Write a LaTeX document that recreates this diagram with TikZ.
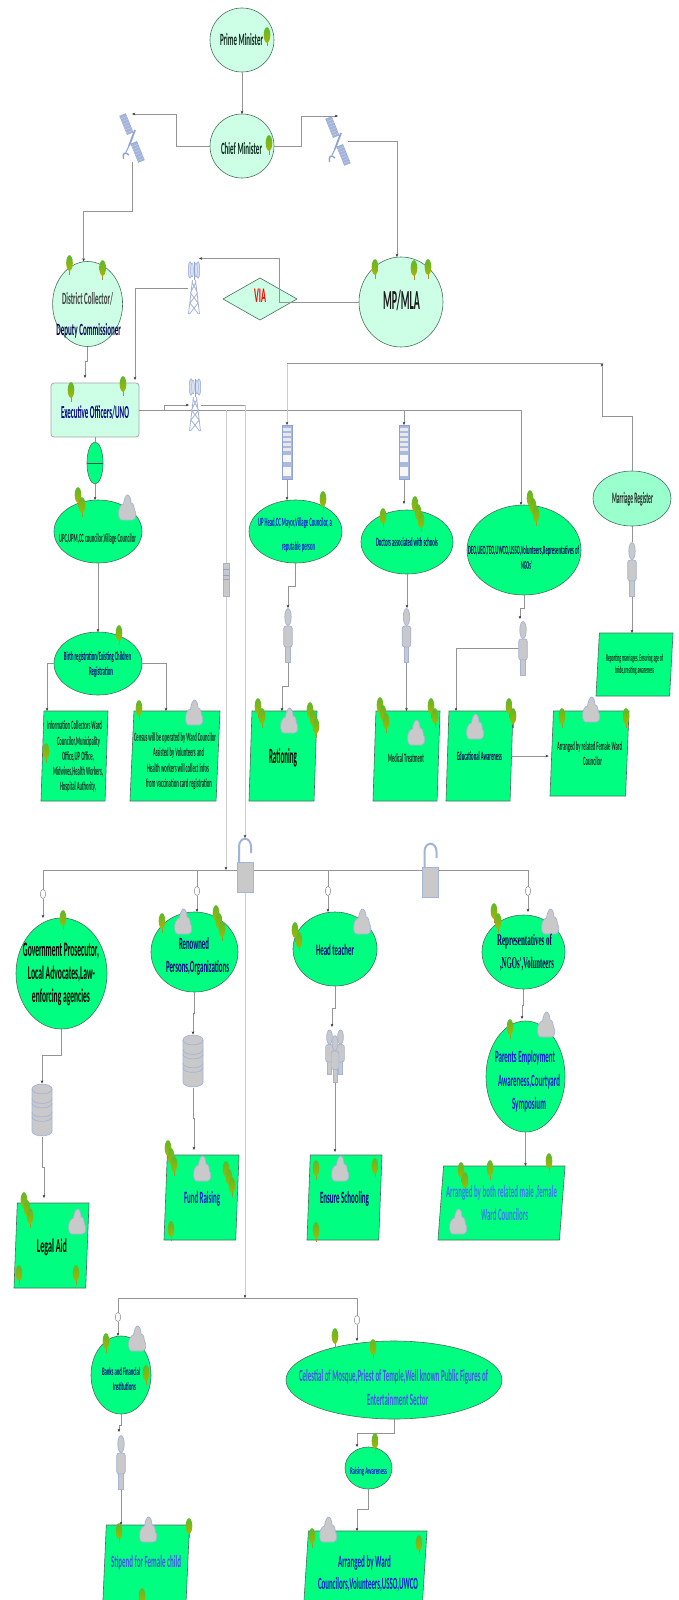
\documentclass[tikz,border=0pt]{standalone}
\usepackage{fontspec}
\usepackage{graphicx}
\setmainfont{Carlito}
\newfontfamily\serf{Liberation Serif}
\usetikzlibrary{shapes.geometric,arrows.meta}
\definecolor{gre}{HTML}{00FF80}
\definecolor{pale}{HTML}{CCFFE6}
\definecolor{mid}{HTML}{99FFCC}
\definecolor{bord}{HTML}{4A6E5C}
\definecolor{icoF}{HTML}{C9C9C9}
\definecolor{icoD}{HTML}{A3B3DA}
\definecolor{icoB}{HTML}{8EA3D3}
\definecolor{nav}{HTML}{000080}
\definecolor{blu}{HTML}{1414D8}
\definecolor{lbl}{HTML}{4A50F0}
\definecolor{lbm}{HTML}{3A78F0}
\definecolor{drk}{HTML}{0C2A1C}
\definecolor{crownT}{HTML}{5CB82C}
\definecolor{crownB}{HTML}{A8B400}
\definecolor{trunk}{HTML}{C08A20}
\newcommand\tx[7]{\node[lab,text=#6] (#1) at (#2,#3) {\resizebox*{#4pt}{#5pt}{\bfseries #7\vphantom{Ag}}};}
\newcommand\hole[5]{\node[holebox,minimum width=#4pt,minimum height=#5pt] (#1) at (#2,#3) {};}
\newcommand\Ta[2]{\pic at (#1,#2) {treeic};}
\newcommand\Tb[2]{\pic at (#1-2,#2-5) {treeic};\pic at (#1+2,#2+5) {treeic};}
\newcommand\Tc[2]{\pic at (#1-3,#2-8) {treeic};\pic at (#1,#2) {treeic};\pic at (#1+3,#2+8) {treeic};}
\newcommand\Cl[2]{\pic at (#1,#2) {cloudic};}
\newcommand\onePerson{\draw[iconf] (-2.2,11) rectangle (2.2,27);\draw[iconf,rounded corners=2.5pt] (-4.3,-9) rectangle (4.3,12);\draw[iconf] (0,-18) ellipse [x radius=3.2,y radius=8.5];}
\newcommand\dbBand[1]{\draw[icoD,line width=0.7pt] (-10,#1) .. controls (-10,#1+6.5) and (10,#1+6.5) .. (10,#1);}
\tikzset{
 lab/.style={inner sep=0pt,outer sep=0pt,draw=none,fill=none},
 holebox/.style={inner sep=0pt,outer sep=0pt,draw=none,fill=none},
 ell/.style={ellipse,draw=bord,line width=0.6pt,fill=gre,inner sep=0pt,outer sep=0pt},
 ellp/.style={ell,fill=pale},
 para/.style={trapezium,trapezium left angle=87.5,trapezium right angle=92.5,trapezium stretches=true,
   draw=bord,line width=0.6pt,fill=gre,inner sep=0pt,outer sep=0pt},
 ring/.style={ellipse,draw=black!45,line width=0.5pt,fill=white,minimum width=5.5pt,minimum height=9pt,inner sep=0pt,outer sep=0pt},
 lin/.style={draw=black!42,line width=0.7pt},
 con/.style={lin,-{Stealth[length=3.2pt,width=2.6pt,color=black!80]}},
 llin/.style={draw=black!20,line width=0.8pt},
 lcon/.style={llin,-{Stealth[length=3.2pt,width=2.6pt,color=black!80]}},
 iconf/.style={fill=icoF,draw=icoD,line width=0.7pt},
 treeic/.pic={
   \fill[trunk] (-0.5,4) rectangle (0.5,9.5);
   \shade[top color=crownT,bottom color=crownB,shading angle=0] (0,-2) ellipse [x radius=3.3,y radius=7.8];
 },
 cloudic/.pic={
   \draw[iconf] (-5.5,12) .. controls (-9,12) and (-9,3) .. (-7.5,0) .. controls (-6.5,-3) and (-4.5,-4) .. (-3.5,-4) .. controls (-3,-9) and (-1,-13) .. (0.5,-13) .. controls (2.5,-13) and (4,-9) .. (4,-5) .. controls (6.5,-5) and (7.5,-1) .. (7.5,2) .. controls (9.5,4) and (9.5,12) .. (5.5,12) -- cycle;
 },
 personic/.pic={\onePerson},
 peopleic/.pic={
   \begin{scope}[shift={(-5.5,-4)},yscale=.83,xscale=.9]\onePerson\end{scope}
   \begin{scope}[shift={(5.5,-4)},yscale=.83,xscale=.9]\onePerson\end{scope}
   \begin{scope}[shift={(0,3)},yscale=.88,xscale=.9]\onePerson\end{scope}
 },
 dbic/.pic={
   \draw[iconf] (-10,-21) -- (-10,21) .. controls (-10,27.5) and (10,27.5) .. (10,21) -- (10,-21) .. controls (10,-27.5) and (-10,-27.5) .. (-10,-21) -- cycle;
   \dbBand{-21}\dbBand{-11.5}\dbBand{-7}\dbBand{2}\dbBand{6.5}
 },
 srvic/.pic={
   \draw[fill=icoB!75,draw=icoB,line width=0.8pt] (-5,-27) rectangle (5,27);
   \foreach \yy in {-24,-19,-14,-9,-4}{\fill[icoF!40] (-3.7,\yy) rectangle (3.7,\yy+2.8);}
   \fill[white!85!icoF] (-3.7,3) rectangle (3.7,10);
   \fill[white!85!icoF] (-3.7,15) rectangle (3.7,24);
 },
 devic/.pic={
   \draw[iconf] (-3,-16.5) rectangle (3,16.5);
   \draw[icoB,line width=0.7pt] (-3,-10.5) -- (3,-10.5) (-3,-5) -- (3,-5) (-3,-0.5) -- (3,-0.5);
 },
 lockic/.pic={
   \draw[icoD,line width=2pt] (-6,-3) -- (-6,-18) .. controls (-6,-29) and (6,-29) .. (6,-18) -- (6,-12);
   \draw[iconf] (-8,-3) rectangle (8,27);
 },
 satic/.pic={
   \begin{scope}[rotate=22]
     \draw[fill=icoD,draw=icoB,line width=0.4pt] (-3.2,-25) rectangle (3.2,-5);
     \draw[fill=icoD,draw=icoB,line width=0.4pt] (-3.2,5) rectangle (3.2,25);
     \foreach \yy in {-22,-19,-16,-13,-10,-7,8,11,14,17,20,23}{\draw[white!55!icoB,line width=0.35pt] (-3.2,\yy) -- (3.2,\yy);}
   \end{scope}
   \draw[icoB,line width=1.8pt] (3,-8) -- (-3,8);
   \draw[icoB,line width=1pt] (-3,8) -- (-6,14);
   \draw[icoB,line width=1.4pt] (-8.5,21) .. controls (-9.5,15) and (-7,13) .. (-3,17);
 },
 towic/.pic={
   \foreach \ang in {-14,0,14}{\draw[icoD,line width=0.5pt,fill=icoD!40] (-4,-18) ellipse [x radius=1.6,y radius=8];
     \draw[icoD,line width=0.5pt,fill=icoD!40] (4,-18) ellipse [x radius=1.6,y radius=8];}
   \draw[icoD,line width=0.5pt,fill=icoD!40] (-2,-18) ellipse [x radius=1.4,y radius=7];
   \draw[icoD,line width=0.5pt,fill=icoD!40] (2,-18) ellipse [x radius=1.4,y radius=7];
   \draw[icoB,line width=0.7pt] (0,-26) -- (0,-8);
   \draw[icoD,line width=0.8pt] (-1.5,-8) -- (-5.5,26) (1.5,-8) -- (5.5,26) (-2,-6) -- (3.5,5) -- (-4,15) -- (4.5,26) (2,-6) -- (-3.5,5) -- (4,15) -- (-4.5,26);
 }
}
\begin{document}
\begin{tikzpicture}[x=1pt,y=-1pt]
\useasboundingbox (0,0) rectangle (678,1600);
\fill[white] (0,0) rectangle (678,1600);

% main shapes
\node[ellp,minimum width=64pt,minimum height=64pt] (pm) at (242,40) {};
\node[ellp,minimum width=64pt,minimum height=64pt] (cm) at (242,146) {};
\node[ellp,minimum width=70pt,minimum height=85pt] (dc) at (87.6,304) {};
\node[ellp,minimum width=84pt,minimum height=90pt] (mp) at (401,302) {};
\node[diamond,draw=bord,line width=0.6pt,fill=pale,inner sep=0pt,outer sep=0pt,minimum width=74pt,minimum height=42pt] (via) at (260,299) {};
\node[rectangle,rounded corners=3pt,draw=black!35,line width=0.8pt,fill=pale,inner sep=0pt,outer sep=0pt,minimum width=88pt,minimum height=54pt] (exec) at (95,410) {};
\node[ell,minimum width=16pt,minimum height=42pt] (osc) at (95,463) {};
\node[ell,minimum width=88pt,minimum height=63pt] (upc) at (98,531.5) {};
\node[ell,minimum width=88pt,minimum height=63pt] (birth) at (98,663.5) {};
\node[ell,minimum width=93pt,minimum height=63pt] (up) at (295.5,531.5) {};
\node[ell,minimum width=92pt,minimum height=64pt] (doc) at (407,542) {};
\node[ell,minimum width=114pt,minimum height=90pt] (ngo) at (524,550) {};
\node[ell,fill=mid,minimum width=78pt,minimum height=55pt] (mr) at (632,498.5) {};
\node[para,minimum width=67pt,minimum height=90pt] (info) at (74.5,756) {\phantom{x}};
\node[para,minimum width=90pt,minimum height=90pt] (census) at (175,756) {\phantom{x}};
\node[para,minimum width=68pt,minimum height=90pt] (rat) at (283,756) {\phantom{x}};
\node[para,minimum width=67pt,minimum height=90pt] (med) at (406.5,756) {\phantom{x}};
\node[para,minimum width=67pt,minimum height=90pt] (edu) at (479.5,756) {\phantom{x}};
\node[para,minimum width=79pt,minimum height=85pt] (arr) at (589.5,753.5) {\phantom{x}};
\node[para,minimum width=77pt,minimum height=63pt] (mrb) at (634.5,664.5) {\phantom{x}};
\node[ell,minimum width=91pt,minimum height=111pt] (gov) at (61.5,973.5) {};
\node[ell,minimum width=87pt,minimum height=80pt] (ren) at (194.5,952) {};
\node[ell,minimum width=84pt,minimum height=74pt] (head) at (335,949) {};
\node[ell,minimum width=83pt,minimum height=74pt] (rep) at (523.5,952) {};
\node[ell,minimum width=79pt,minimum height=111pt] (par) at (525.5,1076.5) {};
\node[para,minimum width=75pt,minimum height=85pt] (legal) at (51.5,1245.5) {\phantom{x}};
\node[para,minimum width=75pt,minimum height=85pt] (fund) at (201.5,1197.5) {\phantom{x}};
\node[para,minimum width=75pt,minimum height=85pt] (ens) at (344.5,1197.5) {\phantom{x}};
\node[para,minimum width=127pt,minimum height=74pt] (both) at (501.5,1203) {\phantom{x}};
\node[ell,minimum width=60pt,minimum height=78pt] (ban) at (121,1375) {};
\node[ell,minimum width=216pt,minimum height=78pt] (cel) at (394,1380) {};
\node[ell,minimum width=47pt,minimum height=42pt] (rai) at (368.5,1468) {};
\node[para,minimum width=87pt,minimum height=85pt] (sti) at (146,1567.5) {\phantom{x}};
\node[para,minimum width=124pt,minimum height=85pt] (arb) at (365,1573.5) {\phantom{x}};

% icon places
\hole{sat1}{132}{138}{19}{48}
\hole{sat2}{338}{141}{20}{50}
\hole{tw1}{194}{288}{12}{53}
\hole{tw2}{195}{405}{12}{53}
\hole{srv1}{287}{452}{10}{54}
\hole{srv2}{404}{452}{10}{54}
\hole{dev}{226}{580}{6}{33}
\hole{pup}{288}{635}{9}{54}
\hole{pdoc}{406.5}{635}{9}{54}
\hole{png}{523}{648}{9}{54}
\hole{pmr}{632}{569}{9}{54}
\hole{lock1}{245}{865}{16}{54}
\hole{lock2}{430.5}{870}{16}{54}
\hole{db1}{42}{1110}{20}{53}
\hole{db2}{193}{1061}{20}{53}
\hole{ppl}{335}{1056}{18}{54}
\hole{pb}{121}{1462}{9}{54}

\node[ring] (r1) at (43,894) {};
\node[ring] (r2) at (197,891) {};
\node[ring] (r3) at (328,891) {};
\node[ring] (r4) at (528,891) {};
\node[ring] (r5) at (118,1317) {};
\node[ring] (r6) at (357,1320) {};

% junction coordinates
\coordinate (t2a) at (164,410);
\coordinate (k1) at (245,405);
\coordinate (k2) at (226,410);
\coordinate (k3) at (226,870);
\coordinate (k4) at (245,1298);
\coordinate (k5) at (287,363);
\coordinate (k6) at (602,416);
\coordinate (k7) at (602,367);
\coordinate (k8) at (404,410);
\coordinate (busL) at (43,870);
\coordinate (busR) at (528,870);
\coordinate (bus2L) at (118,1298);
\coordinate (bus2R) at (357,1298);

% connectors
\draw[con] (pm.south) -- (cm.north);
\draw[con] (cm.west) -- ++(-34,0) |- (sat1.north);
\draw[con] (cm.east) -- ++(27,0) |- (sat2.north);
\draw[con] (sat2.east) -| ([xshift=-4pt]mp.north);
\draw[con] (sat1.south) -- ++(0,49) -| ([xshift=-4pt]dc.north);
\draw[con] (dc.south) -- ++(0,15) -| ([xshift=-10pt,yshift=5pt]exec.north);
\draw[con] (mp.west) -- ++(-80,0) |- ([xshift=5pt,yshift=3pt]tw1.north);
\draw[con] (tw1.west) -| ([xshift=40pt,yshift=3pt]exec.north);
\draw[con] (exec.east) -| ([xshift=-3pt]ngo.north);
\draw[con] (t2a) |- (tw2.west);
\draw[lin] (tw2.east) -- (k1);
\draw[lcon] (k1) -- (lock1.north);
\draw[lcon] (k2) -- (k3);
\draw[lcon] (lock1.south) -- (k4);
\draw[lcon] (k5) -- (srv1.north);
\draw[con] (k5) -| (k7);
\draw[lin] (k7) -- (k6);
\draw[lin] (k6) -| (mr.north);
\draw[con] (k8) -- (srv2.north);
\draw[con] (srv1.south) -- (srv1.south |- up.north);
\draw[con] (srv2.south) -- ([yshift=6pt]srv2.south |- doc.north);
\draw[con] (up.south) -- ++(0,23) -| (pup.north);
\draw[con] (pup.south) -- ++(0,24) -| ([xshift=-1pt]rat.north);
\draw[con] (doc.south) -- (doc.south |- pdoc.north);
\draw[con] (pdoc.south) -- (pdoc.south |- med.north);
\draw[con] (ngo.south) -- ++(0,13) -| ([xshift=-3pt,yshift=2pt]png.north);
\draw[con] (png.west) -| ([xshift=-23.5pt]edu.north);
\draw[con] ([xshift=-1pt]edu.east) -- ([xshift=-3pt]edu.east -| arr.west);
\draw[lin] (exec.south) -- (osc.north);
\draw[con] (osc.south) -- (osc.south |- upc.north);
\draw[con] (upc.south) -- (birth.north);
\draw[con] (birth.west) -| ([xshift=-27.5pt]info.north);
\draw[con] (birth.east) -| ([xshift=-9pt]census.north);
\draw[lin] (mr.south) -- (pmr.north);
\draw[con] (pmr.south) -- (pmr.south |- mrb.north);
\draw[lin] (busL) -- (busR);
\draw[lin] (busL) -- (r1.north);
\draw[lin] (r2.north |- busL) -- (r2.north);
\draw[lin] (r3.north |- busL) -- (r3.north);
\draw[lin] (busR) -- (r4.north);
\draw[con] (r1.south) -- (r1.south |- gov.north);
\draw[con] (r2.south) -- (r2.south |- ren.north);
\draw[con] (r3.south) -- (r3.south |- head.north);
\draw[con] (r4.south) -- ([yshift=3pt]r4.south |- rep.north);
\draw[con] (gov.south) -- ++(0,26) -| (db1.north);
\draw[con] (db1.south) -- ++(0,31) -| ([xshift=-7.5pt,yshift=5pt]legal.north);
\draw[con] (ren.south) -- ++(0,21) -| (db2.north);
\draw[con] (db2.south) -- ++(0,31) -| ([xshift=-7.5pt,yshift=5pt]fund.north);
\draw[con] (head.south) -- ++(0,22) -| ([xshift=-3pt,yshift=2pt]ppl.north);
\draw[con] (ppl.south) -- ([yshift=3pt]ppl.south |- ens.north);
\draw[con] (rep.south) -- ++(0,16) -| ([xshift=-3.5pt,yshift=2pt]par.north);
\draw[con] (par.south) -- (par.south |- both.north);
\draw[lin] (bus2L) -- (bus2R);
\draw[lin] (bus2L) -- (r5.north);
\draw[lin] (bus2R) -- (r6.north);
\draw[con] (r5.south) -- (r5.south |- ban.north);
\draw[con] (r6.south) -- (r6.south |- cel.north);
\draw[con] (ban.south) -- ++(0,11) -| ([xshift=-2pt,yshift=3pt]pb.north);
\draw[con] (pb.south) -- (pb.south |- sti.north);
\draw[con] (cel.south) -- ++(0,14) -| ([xshift=-11.5pt]rai.north);
\draw[con] (rai.south) -- ++(0,20) -| ([xshift=-8pt]arb.north);
\draw[draw=black!70,line width=0.6pt] (osc.west) -- (osc.east);

% icons
\pic at (sat1) {satic};
\pic at (sat2) {satic};
\pic at (tw1) {towic};
\pic at (tw2) {towic};
\pic at (srv1) {srvic};
\pic at (srv2) {srvic};
\pic at (dev) {devic};
\pic at (pup) {personic};
\pic at (pdoc) {personic};
\pic at (png) {personic};
\pic at (pmr) {personic};
\pic at (lock1) {lockic};
\pic at (lock2) {lockic};
\pic at (db1) {dbic};
\pic at (db2) {dbic};
\pic at (ppl) {peopleic};
\pic at (pb) {personic};

% trees and clouds
\Ta{267}{37} \Ta{269}{145}
\Ta{69.5}{265} \Ta{102.6}{270}
\Ta{375}{269} \Ta{414}{270} \Ta{428}{269}
\Ta{71}{392} \Ta{123}{386}
\Tb{80}{502} \Cl{127}{508}
\Ta{323}{501}
\Ta{383}{518} \Tc{418}{514}
\Tc{533}{508}
\Ta{119}{635}
\Ta{46}{753}
\Ta{139}{710} \Cl{194}{713}
\Tb{260}{713} \Tc{313}{720} \Cl{289}{721}
\Tc{383}{715} \Tb{433}{713} \Cl{416}{733}
\Cl{475}{727} \Tb{511}{713}
\Ta{562}{718} \Ta{626}{718} \Cl{591}{710}
\Ta{63}{920}
\Tc{27}{1210} \Ta{19}{1275} \Ta{76}{1275} \Cl{77}{1222}
\Ta{162}{923} \Tc{219}{923} \Cl{183}{922}
\Tc{171}{1158} \Tc{229}{1179} \Ta{171}{1231} \Cl{202}{1169}
\Tb{297}{937} \Cl{362}{922}
\Ta{316}{1170} \Ta{375}{1168} \Ta{316}{1232} \Cl{340}{1169}
\Tb{496}{918} \Cl{550}{922}
\Ta{510}{1029} \Cl{546}{1025}
\Tb{463}{1177} \Ta{490}{1170} \Ta{549}{1163} \Cl{458}{1222}
\Ta{106}{1343} \Ta{146}{1375} \Cl{137}{1339}
\Ta{119}{1533} \Ta{189}{1528} \Ta{142}{1598} \Cl{148}{1530}
\Ta{335}{1338} \Ta{373}{1349} \Ta{375}{1443}
\Ta{312}{1538} \Ta{419}{1545} \Cl{328}{1530}

% labels
\tx{tpm}{241.5}{41}{43}{15}{drk}{Prime Minister}
\tx{tcm}{241.5}{150}{41}{15}{drk}{Chief Minister}
\tx{tdc1}{87.5}{300}{51}{15}{black!75}{District Collector/}
\tx{tdc2}{88.7}{331}{64.5}{15}{nav!60!black}{Deputy Commissioner}
\tx{tvia}{260}{298}{12}{17}{red}{VIA}
\tx{tmp}{401.5}{302}{37}{24}{black!90}{MP/MLA}
\tx{tex}{95}{414}{68}{16}{nav}{Executive Officers/UNO}
\tx{tupc}{97.5}{539}{77}{11}{black!85}{UPC,UPM,CC councilor,Village Councilor}
\tx{tbi1}{97.5}{657}{67}{11}{nav}{Birth registration/Existing Children}
\tx{tbi2}{101}{672}{24}{11}{nav}{Registration}
\tx{tup1}{295}{523}{74}{11}{blu}{UP Head,CC Mayor,Village Councilor, a}
\tx{tup2}{298.5}{547}{33}{11}{blu}{reputable person}
\tx{tdoc}{407}{543}{62}{11}{nav}{Doctors associated with schools}
\tx{tngo1}{523.5}{551}{111}{11}{nav!70!black}{DEO,UEO,TEO,UWCO,USSO,Volunteers,Representatives of}
\tx{tngo2}{526.5}{566}{11}{11}{nav!70!black}{NGOs'}
\tx{tmr}{632.5}{499}{41}{14}{black!85}{Marriage Register}
\tx{tmb1}{634.5}{659}{57}{9}{drk}{Reporting marriages, Ensuring age of}
\tx{tmb2}{634.5}{671}{39}{9}{drk}{bride,creating awareness}
\tx{tin1}{74.5}{726}{55}{11}{black!85}{Information Collectors Ward}
\tx{tin2}{78.5}{742}{43}{11}{black!85}{Councilor,Municipality}
\tx{tin3}{78}{757}{32}{11}{black!85}{Office,UP Office,}
\tx{tin4}{78}{772}{50}{11}{black!85}{Midwives,Health Workers,}
\tx{tin5}{78}{787}{36}{11}{black!85}{Hospital Authority,}
\tx{tce1}{175}{738}{82}{11}{black!85}{Census will be operated by Ward Councilor}
\tx{tce2}{178.5}{753}{51}{11}{black!85}{Assisted by Volunteers and}
\tx{tce3}{178}{769}{62}{11}{black!85}{Health workers will collect infos}
\tx{tce4}{179}{784}{66}{11}{black!85}{from vaccination card registration}
\tx{trat}{283}{758}{28}{19}{black}{Rationing}
\tx{tmed}{406}{759}{36}{11}{black!85}{Medical Treatment}
\tx{tedu}{479.5}{757}{45}{11}{nav!70!black}{Educational Awareness}
\tx{tar1}{589.5}{747}{65}{11}{black!85}{Arranged by related Female Ward}
\tx{tar2}{592.5}{762}{19}{11}{black!85}{Councilor}
\tx{tgo1}{61}{951}{76}{17}{black}{Government Prosecutor,}
\tx{tgo2}{61.5}{974}{67}{17}{black}{Local Advocates,Law-}
\tx{tgo3}{61}{997}{58}{17}{black}{enforcing agencies}
\tx{tre1}{194}{945}{30}{15}{nav}{Renowned}
\tx{tre2}{197.5}{968}{63}{15}{nav}{Persons,Organizations}
\tx{thd}{335}{951}{38}{14}{nav}{Head teacher}
\tx{trp1}{524.5}{942}{55}{15}{nav!70!black}{\serf Representatives of}
\tx{trp2}{527}{965}{54}{15}{nav!70!black}{\serf ,NGOs',Volunteers}
\tx{tpa1}{525}{1058}{60}{15}{blu}{Parents Employment}
\tx{tpa2}{529}{1082}{62}{15}{blu}{Awareness,Courtyard}
\tx{tpa3}{529}{1105}{34}{15}{blu}{Symposium}
\tx{tle}{52}{1247}{30}{17}{black}{Legal Aid}
\tx{tfu}{202}{1199}{36}{15}{blu}{Fund Raising}
\tx{ten}{344.5}{1199}{49}{15}{nav}{Ensure Schooling}
\tx{tbo1}{501.5}{1193}{111}{15}{lbm}{Arranged by both related male ,female}
\tx{tbo2}{504.5}{1216}{47}{15}{lbm}{Ward Councilors}
\tx{tba1}{121}{1372}{38}{10}{nav}{Banks and Financial}
\tx{tba2}{124.5}{1387}{23}{10}{nav}{Institutions}
\tx{tcl1}{393.5}{1377}{189}{15}{lbl}{Celestial of Mosque,Priest of Temple,Well known Public Figures of}
\tx{tcl2}{397.5}{1401}{61}{15}{lbl}{Entertainment Sector}
\tx{tra}{368.5}{1472}{37}{9}{blu}{Raising Awareness}
\tx{tst}{146}{1563}{70}{15}{lbl}{Stipend for Female child}
\tx{tab1}{364.5}{1563}{53}{15}{blu}{Arranged by Ward}
\tx{tab2}{368}{1585}{100}{15}{blu}{Councilors,Volunteers,USSO,UWCO}
\end{tikzpicture}
\end{document}
